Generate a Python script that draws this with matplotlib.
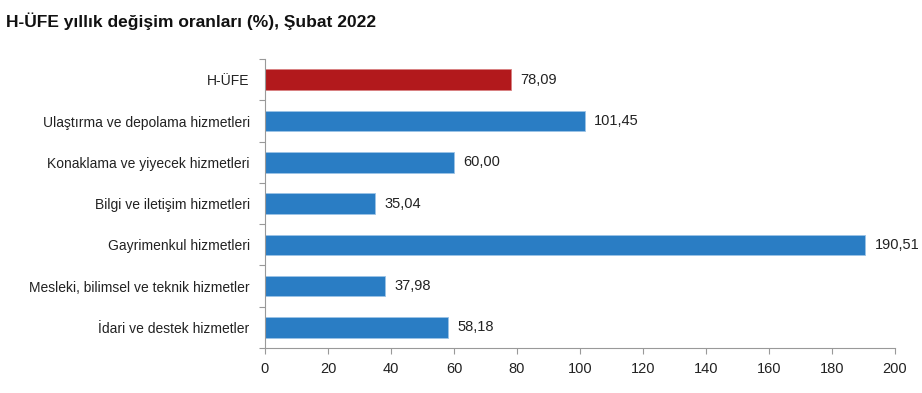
import numpy as np
import matplotlib.pyplot as plt
from matplotlib.ticker import FixedLocator

plt.rcParams['font.family'] = ['Liberation Sans', 'DejaVu Sans']

categories = ['H-ÜFE', 'Ulaştırma ve depolama hizmetleri', 'Konaklama ve yiyecek hizmetleri',
              'Bilgi ve iletişim hizmetleri', 'Gayrimenkul hizmetleri',
              'Mesleki, bilimsel ve teknik hizmetler', 'İdari ve destek hizmetler']
values = [78.09, 101.45, 60.00, 35.04, 190.51, 37.98, 58.18]
x_ticks = [0, 20, 40, 60, 80, 100, 120, 140, 160, 180, 200]

colors = ['#B2191C'] + ['#2A7DC4'] * (len(values) - 1)

fig = plt.figure(figsize=(9.22, 3.93), dpi=100)
ax = fig.add_axes([0.2874, 0.1145, 0.6833, 0.735])

y = np.arange(len(values))
ax.barh(y, values, height=0.5, color=colors, edgecolor='#9CC3E6', linewidth=0.6)
ax.patches[0].set_edgecolor('#D98080')

for yi, v in zip(y, values):
    ax.text(v + 3, yi, f'{v:.2f}'.replace('.', ','), va='center', ha='left',
            fontsize=10.5, color='#222222')

ax.set_ylim(len(values) - 0.5, -0.5)
ax.set_xlim(0, 200)
ax.set_yticks(y)
ax.set_yticklabels(categories, fontsize=10, color='#222222')
ax.yaxis.set_minor_locator(FixedLocator(np.arange(-0.5, len(values), 1)))
ax.tick_params(axis='y', which='major', length=0, pad=11)
ax.tick_params(axis='y', which='minor', length=4, color='#999999', width=0.8)
ax.set_xticks(x_ticks)
ax.set_xticklabels([str(t) for t in x_ticks], fontsize=10.5, color='#222222')
ax.tick_params(axis='x', length=4, color='#999999', width=0.8, pad=6)

for s in ['top', 'right']:
    ax.spines[s].set_visible(False)
for s in ['left', 'bottom']:
    ax.spines[s].set_color('#999999')
    ax.spines[s].set_linewidth(0.8)

fig.text(0.006, 0.945, 'H-ÜFE yıllık değişim oranları (%), Şubat 2022',
         fontsize=12.5, fontweight='bold', va='center', ha='left', color='#111111')

fig.savefig('out.png', dpi=100)
